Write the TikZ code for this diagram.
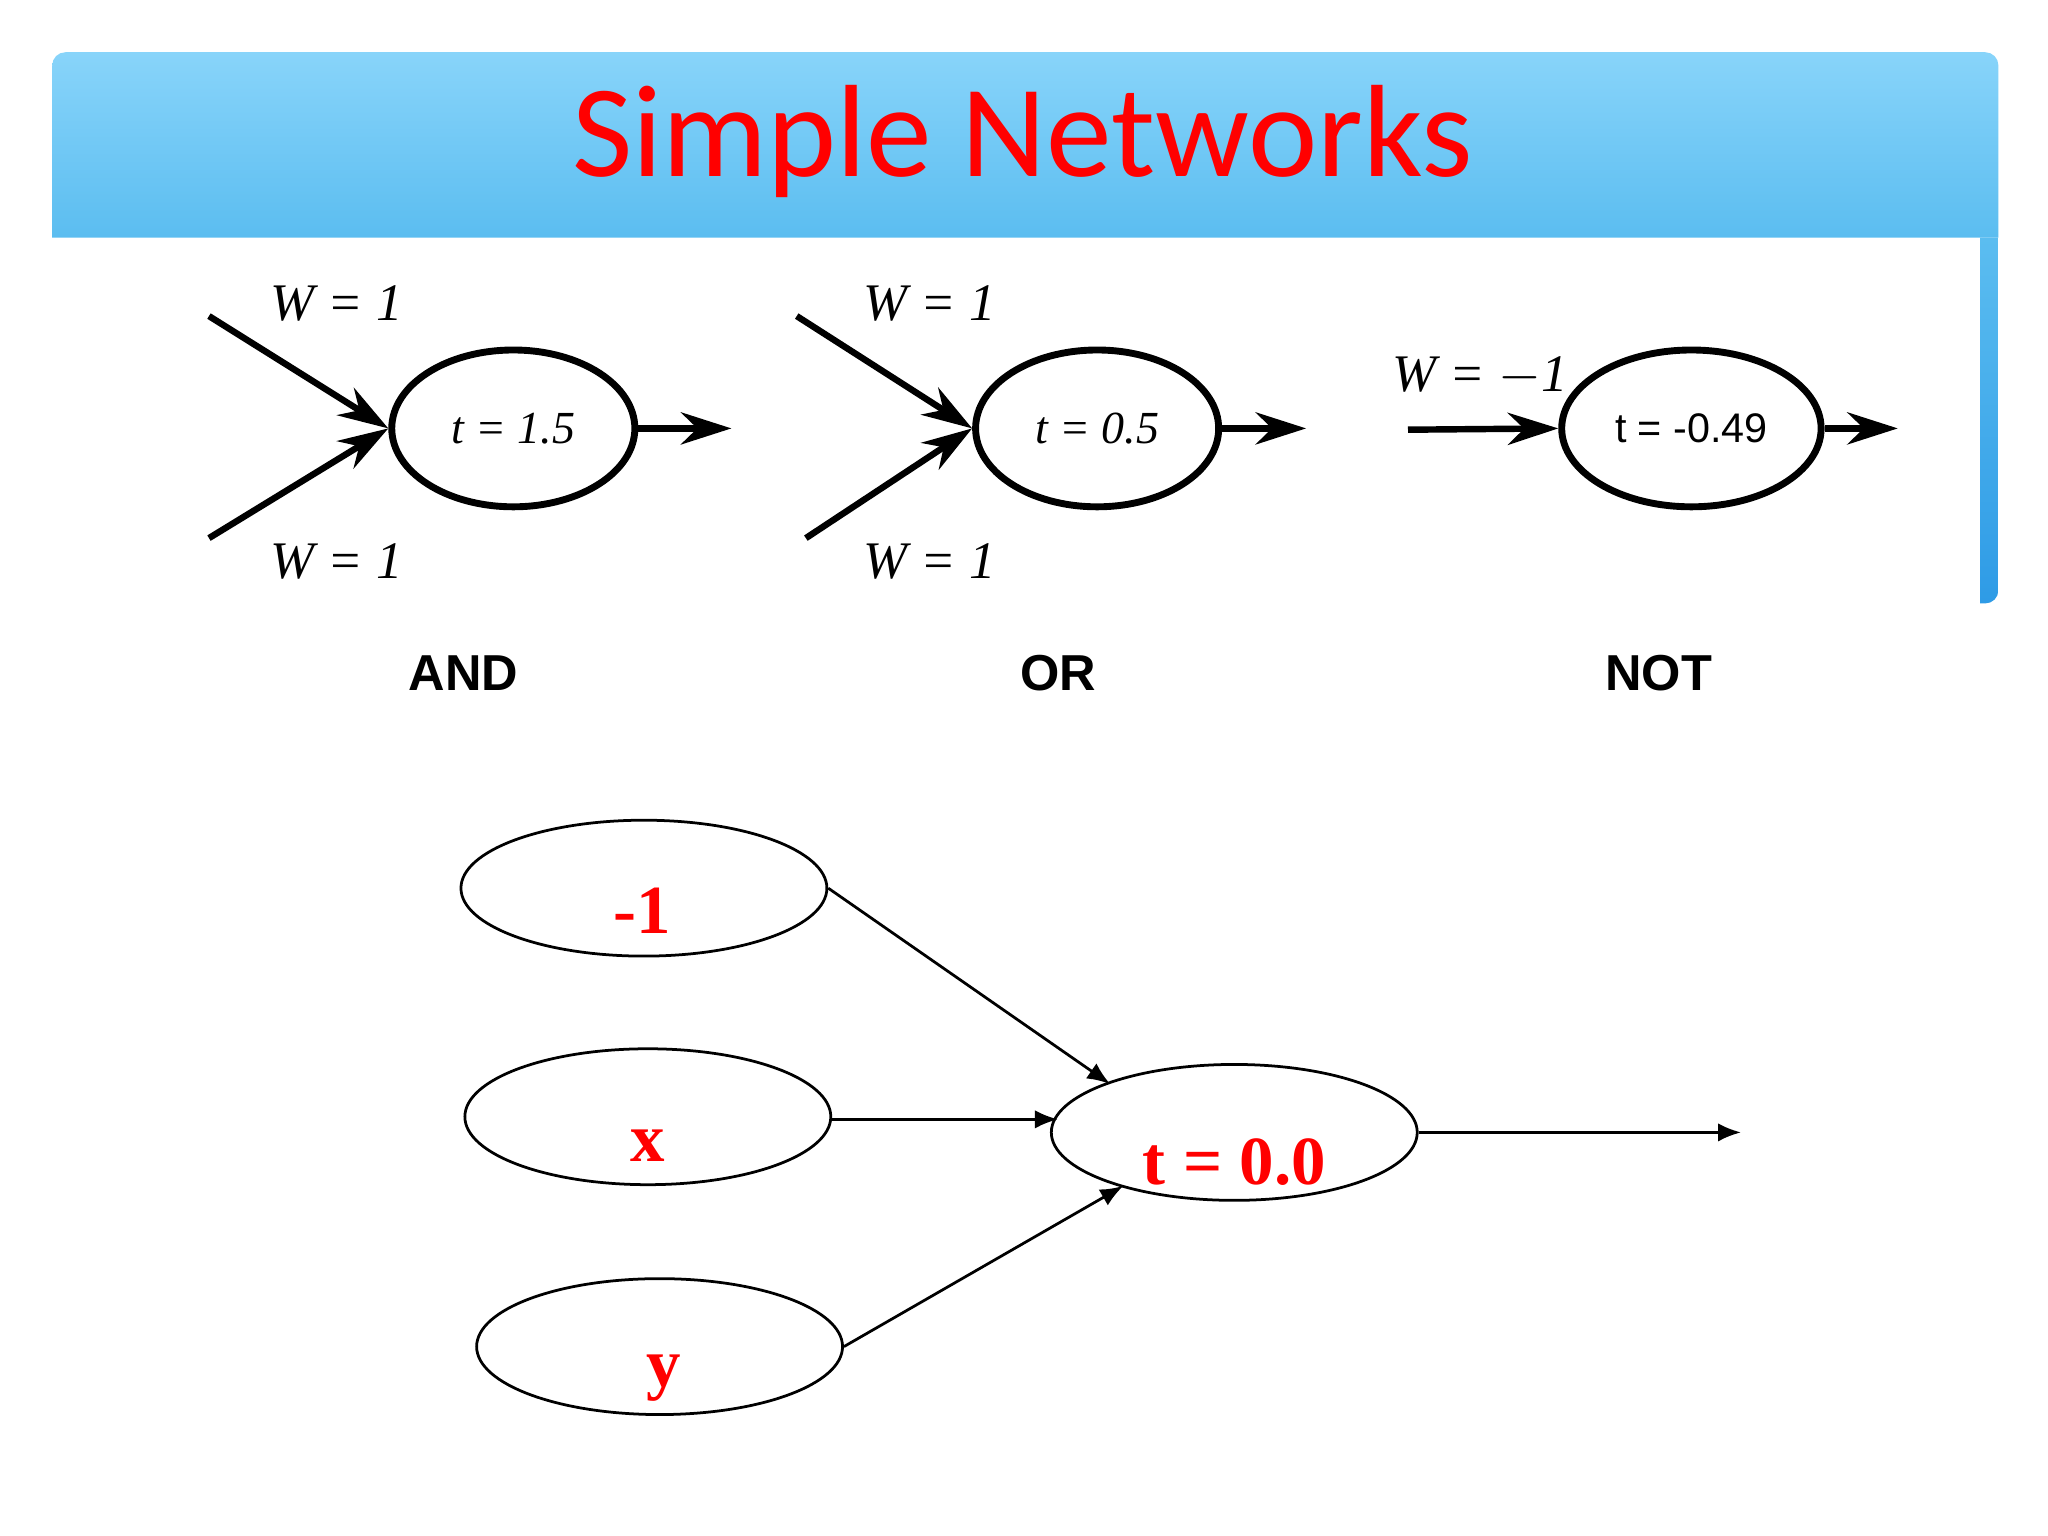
\documentclass[tikz,border=0pt]{standalone}
\usepackage{fontspec}
\setmainfont{Liberation Serif}
\newfontfamily\carl{Carlito}
\newfontfamily\hel{Liberation Sans}
\usetikzlibrary{arrows.meta,shapes.geometric,calc}
\definecolor{hdtop}{HTML}{88D4FA}
\definecolor{hdbot}{HTML}{5BBDF0}
\definecolor{strip}{HTML}{2E9BE6}
\begin{document}
\begin{tikzpicture}[x=0.01cm,y=-0.01cm,
  gell/.style={draw,line width=1.5pt,minimum width=1.86cm,minimum height=1.2cm,ellipse},
  gin/.style={line width=1.4pt,-{Stealth[length=11pt,width=7pt]}},
  wl/.style={font=\itshape\fontsize{11.5}{11.5}\selectfont},
  gl/.style={font=\hel\bfseries\fontsize{11}{11}\selectfont},
  bell/.style={draw,ellipse,line width=0.6pt,minimum width=2.8cm,minimum height=1.04cm},
  rt/.style={text=red,font=\bfseries\fontsize{15}{15}\selectfont},
  bin/.style={line width=0.6pt,-{Latex[length=5pt,width=4pt]}}]
\useasboundingbox (0,0) rectangle (1568,1176);
\fill[white] (0,0) rectangle (1568,1176);
% header
\shade[top color=hdtop,bottom color=hdbot] (40,182) -- (40,50) arc[start angle=180,end angle=270,radius=10] -- (1520,40) arc[start angle=270,end angle=360,radius=10] -- (1530,182) -- cycle;
\shade[top color=hdbot,bottom color=strip] (1516,182) -- (1530,182) -- (1530,452) arc[start angle=0,end angle=90,radius=10] -- (1516,462) -- cycle;
\node[text=red,font=\carl\fontsize{28.6}{28.6}\selectfont] (title) at (783,108) {Simple Networks};
% AND
\node[gell] (andn) at (393,328) {\itshape t = 1.5};
\coordinate (a1) at (160,242); \coordinate (a2) at (160,412); \coordinate (ao) at (560,328);
\draw[gin] (a1) -- (andn.west);
\draw[gin] (a2) -- (andn.west);
\draw[gin] (andn.east) -- (ao);
\node[wl] (aw1) at (258,232) {W = 1};
\node[wl] (aw2) at (258,430) {W = 1};
\node[gl] (andl) at (355,515) {AND};
% OR
\node[gell] (orn) at (840,328) {\itshape t = 0.5};
\coordinate (o1) at (610,242); \coordinate (o2) at (617,412); \coordinate (oo) at (1000,328);
\draw[gin] (o1) -- (orn.west);
\draw[gin] (o2) -- (orn.west);
\draw[gin] (orn.east) -- (oo);
\node[wl] (ow1) at (712,232) {W = 1};
\node[wl] (ow2) at (712,430) {W = 1};
\node[gl] (orl) at (810,515) {OR};
% NOT
\node[gell,font=\hel\fontsize{9}{9}\selectfont] (notn) at (1295,328) {t = -0.49};
\coordinate (n1) at (1078,329); \coordinate (no) at (1453,328);
\draw[gin] (n1) -- (notn.west);
\draw[gin] (notn.east) -- (no);
\node[wl] (nw) at (1133,288) {W = $-$1};
\node[gl] (notl) at (1270,515) {NOT};
% bottom network
\node[bell] (m1) at (493,680) {};
\node[bell] (xx) at (496,855) {};
\node[bell] (yy) at (505,1031) {};
\node[bell] (tt) at (945,867) {};
\node[rt] at (492,697) {-1};
\node[rt] at (496,877) {x};
\node[rt] at (508,1055) {y};
\node[rt] at (945,890) {t = 0.0};
\coordinate (out) at (1333,867);
\draw[bin] (m1.east) -- ($(tt)+(-95,-37)$);
\draw[bin] (xx.east) ++(0,2) -- ($(tt)+(-135,-10)$);
\draw[bin] (yy.east) -- ($(tt)+(-85,41)$);
\draw[bin] (tt.east) -- (out);
\end{tikzpicture}
\end{document}
